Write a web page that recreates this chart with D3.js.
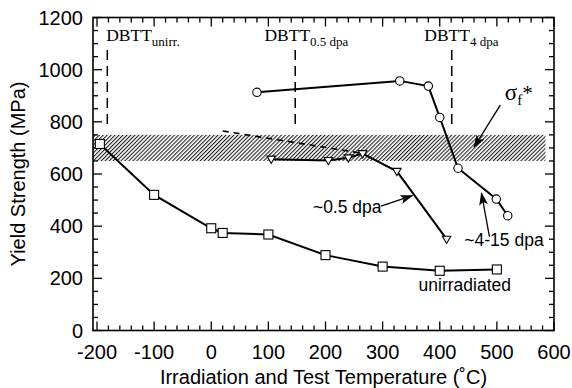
<!DOCTYPE html>
<html>
<head>
<meta charset="utf-8">
<script src="https://cdn.jsdelivr.net/npm/d3@7"></script>
<style>
  body { margin: 0; background: #fff; }
  svg { display: block; }
  .sans { font-family: "Liberation Sans", Arial, sans-serif; }
  .serif { font-family: "Liberation Serif", "Times New Roman", serif; }
</style>
</head>
<body>
<svg id="chart" width="572" height="388"></svg>
<script>
// donnees
const unirrTemp = [-195, -100, 0, 20, 100, 200, 300, 400, 500];
const unirrYS = [715, 520, 392, 374, 368, 289, 245, 229, 234];

const dpa4Temp = [80, 330, 380, 400, 432, 499, 519];
const dpa4YS = [913, 957, 937, 817, 622, 504, 440];

const dpa05Temp = [105, 205, 240, 265, 325, 412];
const dpa05YS = [657, 652, 662, 678, 610, 350];

// trait pointille au dessus des triangles
const dashTemp = [20, 265];
const dashYS = [765, 679];

// bande sigma_f*
const bandYS = [650, 750];
const bandTemp = [-207, 585];

// DBTT
const dbttTemp = [-182, 147, 421];
const dbttYS = [775, 1075];
const dbttSub = ["unirr.", "0.5 dpa", "4 dpa"];
const dbttLabelTemp = [-184, 93, 373];

const xTicks = [-200, -100, 0, 100, 200, 300, 400, 500, 600];
const yTicks = [0, 200, 400, 600, 800, 1000, 1200];

const svg = d3.select("#chart");

const x = d3.scaleLinear().domain([-200, 600]).range([97, 554]);
const y = d3.scaleLinear().domain([0, 1200]).range([330.5, 17.5]);

const gauche = x(-207), droite = x(600), haut = y(1200), bas = y(0);

// motif hachure
const defs = svg.append("defs");
defs.append("pattern")
    .attr("id", "hachure")
    .attr("patternUnits", "userSpaceOnUse")
    .attr("width", 2.8)
    .attr("height", 10)
    .attr("patternTransform", "rotate(45)")
    .append("line")
    .attr("x1", 0.6).attr("x2", 0.6)
    .attr("y1", 0).attr("y2", 10)
    .attr("stroke", "black")
    .attr("stroke-width", 0.95);

defs.append("marker")
    .attr("id", "fleche")
    .attr("viewBox", "0 -5 13 10")
    .attr("refX", 12)
    .attr("refY", 0)
    .attr("markerUnits", "userSpaceOnUse")
    .attr("markerWidth", 13)
    .attr("markerHeight", 10)
    .attr("orient", "auto")
    .append("path")
    .attr("d", "M0,-4.5L13,0L0,4.5L3,0Z")
    .attr("fill", "black");

// bande
svg.append("rect")
    .attr("x", x(bandTemp[0]))
    .attr("y", y(bandYS[1]))
    .attr("width", x(bandTemp[1]) - x(bandTemp[0]))
    .attr("height", y(bandYS[0]) - y(bandYS[1]))
    .attr("fill", "url(#hachure)");

// axes (ticks vers l'interieur)
const xMinor = d3.range(-200, 601, 20);
const yMinor = d3.range(0, 1201, 50);

function ticksX(g, ypos, dir) {
    g.selectAll("line")
        .data(xMinor)
        .join("line")
        .attr("x1", d => x(d)).attr("x2", d => x(d))
        .attr("y1", ypos)
        .attr("y2", d => ypos + dir * (d % 100 === 0 ? 9 : 5))
        .attr("stroke", "black")
        .attr("stroke-width", 1.3);
}
function ticksY(g, xpos, dir) {
    g.selectAll("line")
        .data(yMinor)
        .join("line")
        .attr("y1", d => y(d)).attr("y2", d => y(d))
        .attr("x1", xpos)
        .attr("x2", d => xpos + dir * (d % 200 === 0 ? 9 : 5))
        .attr("stroke", "black")
        .attr("stroke-width", 1.3);
}
ticksX(svg.append("g"), bas, -1);
ticksX(svg.append("g"), haut, 1);
ticksY(svg.append("g"), gauche, 1);
ticksY(svg.append("g"), droite, -1);

svg.append("rect")
    .attr("x", gauche).attr("y", haut)
    .attr("width", droite - gauche).attr("height", bas - haut)
    .attr("fill", "none")
    .attr("stroke", "black")
    .attr("stroke-width", 1.6);

svg.append("g").selectAll("text")
    .data(xTicks)
    .join("text")
    .attr("class", "sans")
    .attr("x", d => x(d))
    .attr("y", bas + 28)
    .attr("text-anchor", "middle")
    .attr("font-size", "20px")
    .text(d => d);

svg.append("g").selectAll("text")
    .data(yTicks)
    .join("text")
    .attr("class", "sans")
    .attr("x", gauche - 10)
    .attr("y", d => y(d) + 7)
    .attr("text-anchor", "end")
    .attr("font-size", "20px")
    .text(d => d);

svg.append("text")
    .attr("class", "sans")
    .attr("x", (gauche + droite) / 2)
    .attr("y", 384)
    .attr("text-anchor", "middle")
    .attr("font-size", "20px")
    .text("Irradiation and Test Temperature (˚C)");

svg.append("text")
    .attr("class", "sans")
    .attr("transform", `translate(25,${(haut + bas) / 2}) rotate(-90)`)
    .attr("text-anchor", "middle")
    .attr("font-size", "20px")
    .text("Yield Strength (MPa)");

// lignes DBTT
dbttTemp.forEach((t, i) => {
    svg.append("line")
        .attr("x1", x(t)).attr("x2", x(t))
        .attr("y1", y(dbttYS[1])).attr("y2", y(dbttYS[0]))
        .attr("stroke", "black")
        .attr("stroke-width", 1.5)
        .attr("stroke-dasharray", "10,6");
    const txt = svg.append("text")
        .attr("class", "serif")
        .attr("x", x(dbttLabelTemp[i]))
        .attr("y", 41)
        .attr("font-size", "17.5px");
    txt.append("tspan").text("DBTT");
    txt.append("tspan").attr("dy", 5).attr("font-size", "13px").text(dbttSub[i]);
});

const ligne = d3.line().x(d => x(d[0])).y(d => y(d[1]));

// pointille
svg.append("path")
    .attr("d", ligne(d3.zip(dashTemp, dashYS)))
    .attr("fill", "none")
    .attr("stroke", "black")
    .attr("stroke-width", 1.6)
    .attr("stroke-dasharray", "6,5");

function serie(temps, ys) {
    const pts = d3.zip(temps, ys);
    svg.append("path")
        .attr("d", ligne(pts))
        .attr("fill", "none")
        .attr("stroke", "black")
        .attr("stroke-width", 2);
    return pts;
}

const ptsUnirr = serie(unirrTemp, unirrYS);
const pts4 = serie(dpa4Temp, dpa4YS);
const pts05 = serie(dpa05Temp, dpa05YS);

svg.append("g").selectAll("rect")
    .data(ptsUnirr)
    .join("rect")
    .attr("x", d => x(d[0]) - 4.5)
    .attr("y", d => y(d[1]) - 4.5)
    .attr("width", 9).attr("height", 9)
    .attr("fill", "white")
    .attr("stroke", "black")
    .attr("stroke-width", 1.1);

svg.append("g").selectAll("circle")
    .data(pts4)
    .join("circle")
    .attr("cx", d => x(d[0]))
    .attr("cy", d => y(d[1]))
    .attr("r", 4.2)
    .attr("fill", "white")
    .attr("stroke", "black")
    .attr("stroke-width", 1.1);

svg.append("g").selectAll("path")
    .data(pts05)
    .join("path")
    .attr("transform", d => `translate(${x(d[0])},${y(d[1])})`)
    .attr("d", "M-4.2,-3L4.2,-3L0,4.3Z")
    .attr("fill", "white")
    .attr("stroke", "black")
    .attr("stroke-width", 1.1);

// annotations
const annot = [
    { t: "~0.5 dpa", temp: 178, ys: 450 },
    { t: "~4-15 dpa", temp: 443, ys: 325 },
    { t: "unirradiated", temp: 363, ys: 150 }
];
svg.append("g").selectAll("text")
    .data(annot)
    .join("text")
    .attr("class", "sans")
    .attr("x", d => x(d.temp))
    .attr("y", d => y(d.ys))
    .attr("font-size", "17.5px")
    .text(d => d.t);

const fleches = [
    [[297, 477], [352, 517]],
    [[487, 360], [473, 527]],
    [[506, 864], [460, 703]]
];
svg.append("g").selectAll("line")
    .data(fleches)
    .join("line")
    .attr("x1", d => x(d[0][0])).attr("y1", d => y(d[0][1]))
    .attr("x2", d => x(d[1][0])).attr("y2", d => y(d[1][1]))
    .attr("stroke", "black")
    .attr("stroke-width", 1.3)
    .attr("marker-end", "url(#fleche)");

// sigma f*
const sig = svg.append("text")
    .attr("class", "serif")
    .attr("x", x(514))
    .attr("y", 100)
    .attr("font-size", "23px");
sig.append("tspan").text("σ");
sig.append("tspan").attr("dy", 5).attr("font-size", "15px").text("f");
sig.append("tspan").attr("dy", -5).attr("font-size", "21px").text("*");
</script>
</body>
</html>
